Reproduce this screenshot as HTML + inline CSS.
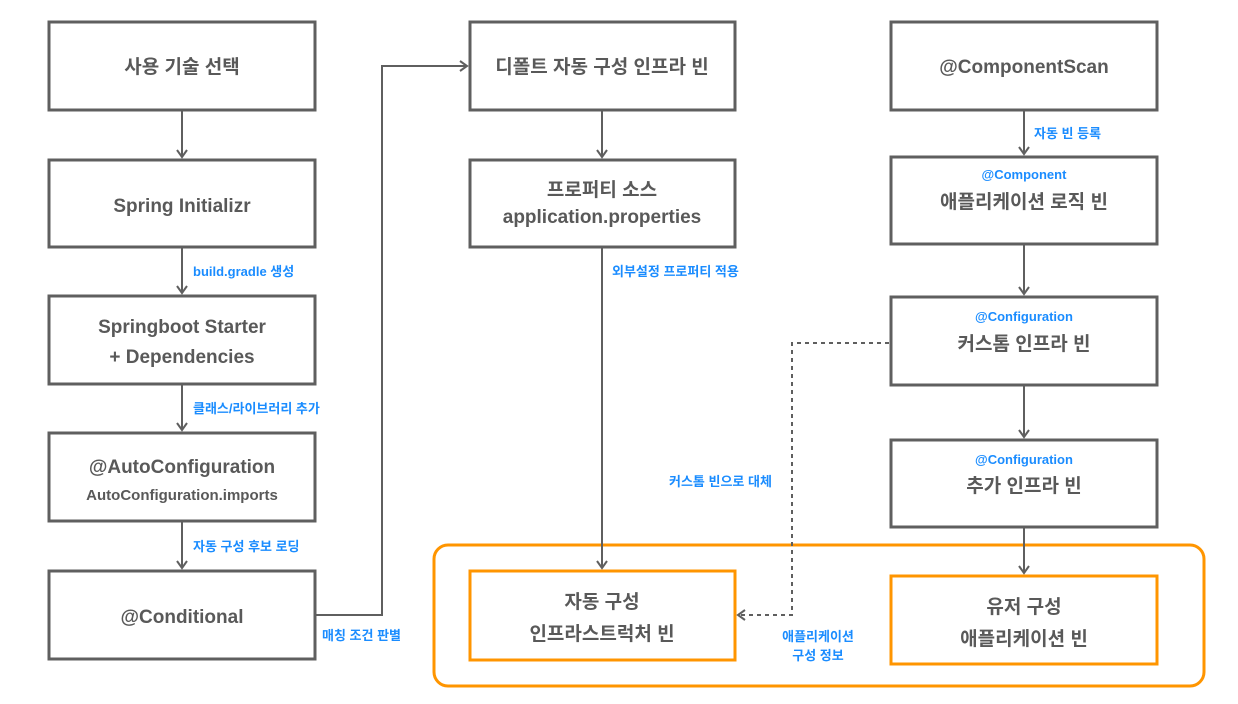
<!DOCTYPE html>
<html><head><meta charset="utf-8"><style>
html,body{margin:0;padding:0;background:#fff;}
svg text{font-family:"Liberation Sans","Noto Sans CJK KR",sans-serif;}
.t{fill:#595959;font-size:19px;font-weight:bold;text-anchor:middle;}
.s{fill:#595959;font-size:15px;font-weight:bold;text-anchor:middle;}
.b{fill:#1a8cff;font-size:13px;font-weight:bold;}
.bc{fill:#1a8cff;font-size:13px;font-weight:bold;text-anchor:middle;}
.box{fill:#fff;stroke:#5f5f5f;stroke-width:3;}
.ob{fill:#fff;stroke:#ff9500;stroke-width:3;}
.l{stroke:#5f5f5f;stroke-width:2;fill:none;}
</style></head><body>
<svg width="1238" height="699" viewBox="0 0 1238 699" xmlns="http://www.w3.org/2000/svg">
<defs><marker id="a" markerWidth="12" markerHeight="12" refX="9" refY="6" orient="auto" markerUnits="userSpaceOnUse"><path d="M2,1 L9,6 L2,11" fill="none" stroke="#5f5f5f" stroke-width="2"/></marker></defs>
<rect x="434" y="545" width="770" height="141" rx="14" fill="none" stroke="#ff9500" stroke-width="3"/>
<!-- left column -->
<rect class="box" x="49" y="22" width="266" height="88"/>
<text class="t" x="182" y="73">사용 기술 선택</text>
<rect class="box" x="49" y="160" width="266" height="87"/>
<text class="t" x="182" y="212">Spring Initializr</text>
<rect class="box" x="49" y="296" width="266" height="88"/>
<text class="t" x="182" y="333">Springboot Starter</text>
<text class="t" x="182" y="363">+ Dependencies</text>
<rect class="box" x="49" y="433" width="266" height="88"/>
<text class="t" x="182" y="473">@AutoConfiguration</text>
<text class="s" x="182" y="500">AutoConfiguration.imports</text>
<rect class="box" x="49" y="571" width="266" height="88"/>
<text class="t" x="182" y="623">@Conditional</text>
<line class="l" x1="182" y1="111" x2="182" y2="157" marker-end="url(#a)"/>
<line class="l" x1="182" y1="248" x2="182" y2="293" marker-end="url(#a)"/>
<line class="l" x1="182" y1="385" x2="182" y2="430" marker-end="url(#a)"/>
<line class="l" x1="182" y1="522" x2="182" y2="568" marker-end="url(#a)"/>
<text class="b" x="193" y="276">build.gradle 생성</text>
<text class="b" x="193" y="413">클래스/라이브러리 추가</text>
<text class="b" x="193" y="551">자동 구성 후보 로딩</text>
<polyline class="l" points="316,615 382,615 382,66 467,66" marker-end="url(#a)"/>
<text class="b" x="322" y="640">매칭 조건 판별</text>
<!-- middle -->
<rect class="box" x="470" y="22" width="265" height="88"/>
<text class="t" x="602" y="73">디폴트 자동 구성 인프라 빈</text>
<rect class="box" x="470" y="160" width="265" height="87"/>
<text class="t" x="602" y="196">프로퍼티 소스</text>
<text class="t" x="602" y="223">application.properties</text>
<line class="l" x1="602" y1="111" x2="602" y2="157" marker-end="url(#a)"/>
<line class="l" x1="602" y1="248" x2="602" y2="568" marker-end="url(#a)"/>
<text class="b" x="612" y="276">외부설정 프로퍼티 적용</text>
<rect class="ob" x="470" y="571" width="265" height="89"/>
<text class="t" x="602" y="608">자동 구성</text>
<text class="t" x="602" y="640">인프라스트럭처 빈</text>
<!-- right -->
<rect class="box" x="891" y="22" width="266" height="88"/>
<text class="t" x="1024" y="73">@ComponentScan</text>
<line class="l" x1="1024" y1="111" x2="1024" y2="154" marker-end="url(#a)"/>
<text class="b" x="1034" y="138">자동 빈 등록</text>
<rect class="box" x="891" y="157" width="266" height="87"/>
<text class="bc" x="1024" y="179">@Component</text>
<text class="t" x="1024" y="208">애플리케이션 로직 빈</text>
<line class="l" x1="1024" y1="245" x2="1024" y2="294" marker-end="url(#a)"/>
<rect class="box" x="891" y="297" width="266" height="88"/>
<text class="bc" x="1024" y="321">@Configuration</text>
<text class="t" x="1024" y="350">커스톰 인프라 빈</text>
<line class="l" x1="1024" y1="386" x2="1024" y2="437" marker-end="url(#a)"/>
<rect class="box" x="891" y="440" width="266" height="87"/>
<text class="bc" x="1024" y="464">@Configuration</text>
<text class="t" x="1024" y="492">추가 인프라 빈</text>
<line class="l" x1="1024" y1="528" x2="1024" y2="573" marker-end="url(#a)"/>
<rect class="ob" x="891" y="576" width="266" height="88"/>
<text class="t" x="1024" y="613">유저 구성</text>
<text class="t" x="1024" y="645">애플리케이션 빈</text>
<polyline points="889,343 792,343 792,615 738,615" fill="none" stroke="#5f5f5f" stroke-width="2" stroke-dasharray="4,4" marker-end="url(#a)"/>
<text class="b" x="669" y="486">커스톰 빈으로 대체</text>
<text class="bc" x="818" y="641">애플리케이션</text>
<text class="bc" x="818" y="660">구성 정보</text>
</svg>
</body></html>
